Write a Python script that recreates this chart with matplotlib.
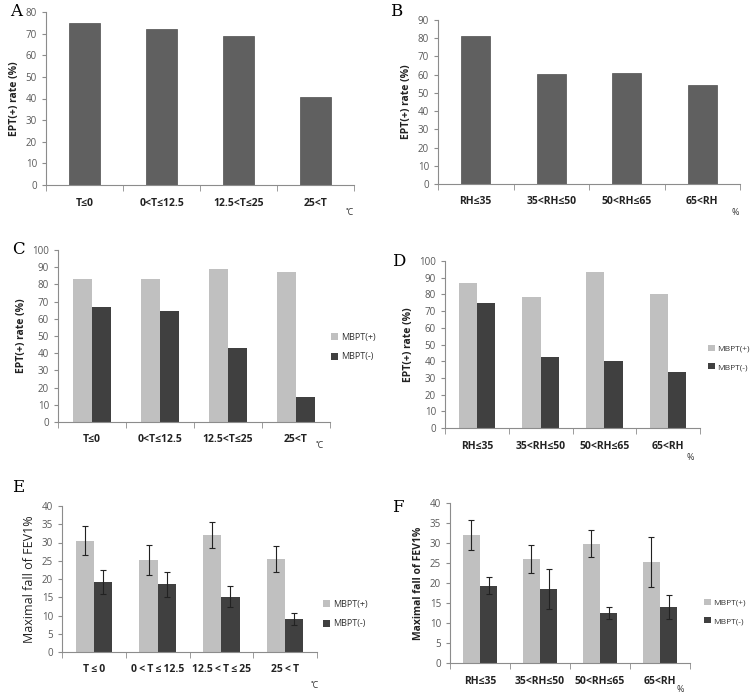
import numpy as np
import matplotlib.pyplot as plt

plt.rcParams['font.family'] = ['Open Sans', 'DejaVu Sans']

W, H = 754, 694

# data
temp_cats = ['T≤0', '0<T≤12.5', '12.5<T≤25', '25<T']
temp_cats_e = ['T\u2009≤\u20090', '0\u2009<\u2009T\u2009≤\u200912.5', '12.5\u2009<\u2009T\u2009≤\u200925', '25\u2009<\u2009T']
rh_cats = ['RH≤35', '35<RH≤50', '50<RH≤65', '65<RH']

a_rate = [75.0, 72.3, 68.8, 40.8]
b_rate = [81.3, 60.4, 60.9, 54.3]

c_pos = [83.0, 83.0, 88.8, 87.5]
c_neg = [66.7, 64.6, 42.9, 14.3]

d_pos = [86.8, 78.6, 93.5, 80.0]
d_neg = [75.0, 42.8, 40.0, 33.3]

e_pos = [30.5, 25.2, 32.0, 25.5]
e_pos_err = [4.0, 4.1, 3.5, 3.6]
e_neg = [19.2, 18.5, 15.2, 9.0]
e_neg_err = [3.4, 3.5, 2.9, 1.6]

f_pos = [32.0, 26.0, 29.8, 25.3]
f_pos_err = [3.8, 3.6, 3.4, 6.3]
f_neg = [19.3, 18.5, 12.4, 14.0]
f_neg_err = [2.1, 5.1, 1.5, 3.0]

LIGHT = '#c0c0c0'
DARK = '#404040'
MID = '#606060'
SPINE = '#8c8c8c'
TICK = '#595959'


def rect(l, t, r, b):
    return [l / W, 1 - b / H, (r - l) / W, (b - t) / H]


fig = plt.figure(figsize=(W / 100, H / 100), dpi=100)


def style(ax, cats, ymax, step, ylabel, bold_y=True):
    n = len(cats)
    ax.set_xlim(-0.5, n - 0.5)
    ax.set_ylim(0, ymax)
    ax.set_yticks(np.arange(0, ymax + 0.1, step))
    ax.set_xticks(range(n))
    ax.set_xticklabels(cats, fontsize=7.5, fontweight='bold', color='#222222')
    ax.set_xticks(np.arange(-0.5, n, 1), minor=True)
    ax.tick_params(axis='x', which='major', length=0, pad=9)
    ax.tick_params(axis='x', which='minor', length=4, color=SPINE, direction='out')
    ax.tick_params(axis='y', length=3, color=SPINE, labelsize=7, labelcolor=TICK, direction='out')
    for s in ['top', 'right']:
        ax.spines[s].set_visible(False)
    for s in ['left', 'bottom']:
        ax.spines[s].set_color(SPINE)
        ax.spines[s].set_linewidth(0.8)
    if bold_y:
        ax.set_ylabel(ylabel, fontsize=7.5, fontweight='bold', color='#222222', labelpad=4)
    else:
        ax.set_ylabel(ylabel, fontsize=9, color='#222222', labelpad=4)


def single(ax, cats, vals, ymax, step):
    x = np.arange(len(cats))
    ax.bar(x, vals, width=0.39, color=MID, edgecolor='#505050', linewidth=0.5)
    style(ax, cats, ymax, step, 'EPT(+) rate (%)')


def paired(ax, cats, pos, neg, ymax, step, ylabel, pos_err=None, neg_err=None, bold_y=True):
    x = np.arange(len(cats))
    w = 0.285
    ekw = dict(elinewidth=0.8, capthick=0.8, ecolor='#222222')
    ax.bar(x - w / 2, pos, width=w, color=LIGHT, label='MBPT(+)',
           yerr=pos_err, capsize=2.5 if pos_err else 0, error_kw=ekw)
    ax.bar(x + w / 2, neg, width=w, color=DARK, label='MBPT(-)',
           yerr=neg_err, capsize=2.5 if neg_err else 0, error_kw=ekw)
    style(ax, cats, ymax, step, ylabel, bold_y)


def legend(ax, x, y, size=6.5):
    ax.legend(loc='center left', bbox_to_anchor=(x / W, 1 - y / H), bbox_transform=fig.transFigure,
              frameon=False, fontsize=size, handlelength=0.8, handleheight=0.8, handletextpad=0.3,
              labelspacing=1.2, borderaxespad=0, borderpad=0, labelcolor='#333333')


axA = fig.add_axes(rect(46, 12, 354, 185))
single(axA, temp_cats, a_rate, 80, 10)
axB = fig.add_axes(rect(438, 20, 740, 184))
single(axB, rh_cats, b_rate, 90, 10)

axC = fig.add_axes(rect(58, 250, 330, 422))
paired(axC, temp_cats, c_pos, c_neg, 100, 10, 'EPT(+) rate (%)')
legend(axC, 331, 347)
axD = fig.add_axes(rect(445, 261, 700, 428))
paired(axD, rh_cats, d_pos, d_neg, 100, 10, 'EPT(+) rate (%)')
legend(axD, 708, 358, 6.0)

axE = fig.add_axes(rect(62, 506, 317, 652))
paired(axE, temp_cats_e, e_pos, e_neg, 40, 5, 'Maximal fall of FEV1%', e_pos_err, e_neg_err, bold_y=False)
legend(axE, 323, 614)
axF = fig.add_axes(rect(450, 503, 690, 663))
paired(axF, rh_cats, f_pos, f_neg, 40, 5, 'Maximal fall of FEV1%', f_pos_err, f_neg_err)
legend(axF, 704, 612, 6.0)

# panel letters
for letter, (px, py) in zip('ABCDEF', [(10, 12), (390, 12), (12, 250), (392, 261), (12, 487), (392, 507)]):
    fig.text(px / W, 1 - py / H, letter, fontsize=12, family='DejaVu Serif', va='center', ha='left')

# unit marks
for txt, (px, py) in [('˚C', (350, 213)), ('%', (735, 213)), ('˚C', (320, 446)),
                      ('%', (690, 458)), ('˚C', (315, 686)), ('%', (680, 689))]:
    fig.text(px / W, 1 - py / H, txt, fontsize=6.5, color='#333333', va='center', ha='center')

fig.savefig('out.png', dpi=100)
